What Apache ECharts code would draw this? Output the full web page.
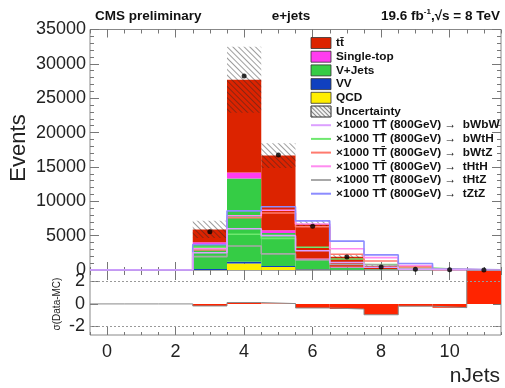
<!DOCTYPE html>
<html><head><meta charset="utf-8">
<script src="https://cdn.jsdelivr.net/npm/echarts@6/dist/echarts.min.js"></script>
<style>html,body{margin:0;padding:0;background:#fff}#c{width:505px;height:388px}</style>
</head><body><div id="c"></div>
<script>
// ---- data (nJets bins 0..11) ----
const bins       = [0, 1, 2, 3, 4, 5, 6, 7, 8, 9, 10, 11];
const qcd        = [0, 0, 0, 0, 950, 450, 80, 10, 0, 0, 0, 0];
const vv         = [0, 0, 0, 150, 250, 150, 80, 20, 10, 0, 0, 0];
const vjets      = [0, 0, 0, 3600, 12100, 4800, 1300, 350, 100, 30, 5, 2];
const singleTop  = [0, 0, 0, 300, 900, 400, 200, 100, 40, 10, 2, 1];
const ttbar      = [0, 0, 0, 1850, 13500, 10850, 5040, 1450, 450, 110, 30, 8];
const uncertainty= [0, 0, 0, 1250, 4800, 1800, 500, 400, 150, 50, 10, 5];
const dataObs    = [null, null, null, 5550, 28250, 16750, 6350, 1900, 450, 120, 30, 10];
const sigBWbW    = [0, 0, 0, 2500, 6000, 5000, 2800, 1100, 400, 100, 20, 5];
const sigBWtH    = [0, 0, 0, 3300, 5200, 4600, 3300, 1600, 800, 300, 40, 5];
const sigBWtZ    = [0, 0, 0, 2900, 7600, 8300, 6300, 2300, 1300, 450, 60, 10];
const sigTHtH    = [0, 0, 0, 3100, 7900, 8700, 6700, 3100, 1800, 650, 80, 10];
const sigTHtZ    = [0, 0, 0, 1950, 3500, 2350, 1450, 800, 700, 150, 30, 5];
const sigTZtZ    = [0, 0, 0, 3700, 8600, 9200, 7150, 4200, 2200, 950, 100, 20];
const ratio      = [0, 0, 0, -0.18, 0.12, 0.03, -0.36, -0.45, -0.96, -0.2, -0.33, 3.0];
const xTickLabels = [0, 2, 4, 6, 8, 10];
const ratioTicks  = [-2, 0, 2];

// ---- helpers ----
const FONT = "'Liberation Sans', Arial, Helvetica, sans-serif";
const total = bins.map((b, i) => qcd[i] + vv[i] + vjets[i] + singleTop[i] + ttbar[i]);
const steps = arr => { const out = []; bins.forEach((b, i) => { out.push([b - 0.5, arr[i]]); out.push([b + 0.5, arr[i]]); }); return out; };

const XMIN = -0.5, XMAX = 11.5;
function catAx(grid) {
  return { type: 'category', gridIndex: grid, data: bins.map(String), boundaryGap: true, show: false, axisLine: { onZero: false } };
}
function xAx(grid, pos, custom, len, labels) {
  const a = {
    type: 'value', gridIndex: grid, position: pos, min: XMIN, max: XMAX,
    axisLine: { show: false, onZero: false }, splitLine: { show: false },
    axisLabel: { show: false },
    axisTick: { show: true, inside: true, length: len, lineStyle: { color: '#777', width: 1 } }
  };
  if (custom) { a.axisTick.customValues = xTickLabels; } else { a.interval = 0.5; }
  if (labels) {
    a.axisLabel = { show: true, customValues: xTickLabels, fontSize: 18, color: '#222', fontFamily: FONT, margin: 8 };
  }
  return a;
}

const barCommon = { type: 'bar', xAxisIndex: 0, yAxisIndex: 0, barWidth: '100%', barGap: '-100%', barCategoryGap: 0, stack: 'bkg' };
const sigNames = ['bWtH', 'bWtZ', 'tHtH', 'tHtZ', 'tZtZ', 'bWbW'];
const sigData = { bWbW: sigBWbW, bWtH: sigBWtH, bWtZ: sigBWtZ, tHtH: sigTHtH, tHtZ: sigTHtZ, tZtZ: sigTZtZ };
const sigColor = { bWbW: '#dca0ff', bWtH: '#6fe86f', bWtZ: '#ff7a6e', tHtH: '#ff8cf0', tHtZ: '#a8a8a8', tZtZ: '#8c8cff' };
const sigLabel = m => '\u00d71000 TT\u0304 (800GeV) \u2192  ' + m;
const hatch = { symbol: 'rect', symbolSize: 1, dashArrayX: [1, 0], dashArrayY: [1, 3], rotation: Math.PI / 4, color: 'rgba(40,40,40,0.45)' };

const series = [
  Object.assign({}, barCommon, { name: 'QCD', data: qcd, itemStyle: { color: '#ffee00' } }),
  Object.assign({}, barCommon, { name: 'VV', data: vv, itemStyle: { color: '#1040c0' } }),
  Object.assign({}, barCommon, { name: 'V+Jets', data: vjets, itemStyle: { color: '#35cc45' } }),
  Object.assign({}, barCommon, { name: 'Single-top', data: singleTop, itemStyle: { color: '#ff3cf0' } }),
  Object.assign({}, barCommon, { name: 'tt\u0304', data: ttbar, itemStyle: { color: '#dc2300' } }),
  Object.assign({}, barCommon, { name: 'uncBase', stack: 'unc', data: bins.map((b, i) => total[i] - uncertainty[i]), itemStyle: { color: 'rgba(0,0,0,0)' }, silent: true }),
  Object.assign({}, barCommon, { name: 'Uncertainty', stack: 'unc', data: bins.map((b, i) => 2 * uncertainty[i]),
    itemStyle: { color: 'rgba(0,0,0,0)', decal: hatch } })
];
sigNames.forEach(m => {
  series.push({ type: 'line', name: sigLabel(m), xAxisIndex: 1, yAxisIndex: 0, data: steps(sigData[m]), symbol: 'none', showSymbol: false,
    lineStyle: { color: sigColor[m], width: 1.6 }, itemStyle: { color: sigColor[m] }, z: 3 });
});
series.push({ type: 'scatter', name: 'Data', xAxisIndex: 1, yAxisIndex: 0, data: bins.map((b, i) => [b, dataObs[i]]).filter(p => p[1] !== null),
  symbol: 'circle', symbolSize: 5, itemStyle: { color: '#000' }, z: 5 });
// ratio panel
series.push({ type: 'bar', name: 'ratio', xAxisIndex: 5, yAxisIndex: 2, barWidth: '100%', barCategoryGap: 0, data: ratio, itemStyle: { color: '#ff2400' },
  markLine: { silent: true, symbol: 'none', label: { show: false }, lineStyle: { color: '#999', type: [2, 2], width: 1 }, data: [{ yAxis: 2 }, { yAxis: -2 }] } });
series.push({ type: 'line', name: 'ratioOutline', xAxisIndex: 6, yAxisIndex: 2, data: steps(ratio.map(v => Math.min(v, 3))), symbol: 'none',
  lineStyle: { color: '#8a8a8a', width: 1 }, z: 3 });

const boxItem = (name) => ({ name, icon: 'rect', itemStyle: { borderColor: '#333', borderWidth: 0.8 } });
const legendData = [boxItem('tt\u0304'), boxItem('Single-top'), boxItem('V+Jets'), boxItem('VV'), boxItem('QCD'),
  { name: 'Uncertainty', icon: 'rect', itemStyle: { color: '#f2f2f2', borderColor: '#555', borderWidth: 0.8, decal: { symbol: 'rect', symbolSize: 1, dashArrayX: [1, 0], dashArrayY: [1, 2], rotation: Math.PI / 4, color: 'rgba(60,60,60,0.6)' } } }]
  .concat(['bWbW', 'bWtH', 'bWtZ', 'tHtH', 'tHtZ', 'tZtZ'].map(m => ({ name: sigLabel(m), itemStyle: { opacity: 0 } })));

const yBase = { type: 'value', axisLine: { show: false, onZero: false }, splitLine: { show: false } };
const option = {
  animation: false,
  backgroundColor: '#fff',
  textStyle: { fontFamily: FONT },
  grid: [
    { left: 90, right: 4, top: 29.5, height: 240.5, show: true, borderColor: '#888', borderWidth: 1, backgroundColor: 'rgba(0,0,0,0)' },
    { left: 90, right: 4, top: 270, height: 65, show: true, borderColor: '#888', borderWidth: 1, backgroundColor: 'rgba(0,0,0,0)' }
  ],
  xAxis: [
    catAx(0),
    xAx(0, 'bottom', false, 3, false),
    xAx(0, 'bottom', true, 8, false),
    xAx(0, 'top', false, 4, false),
    xAx(0, 'top', true, 8, false),
    catAx(1),
    xAx(1, 'bottom', false, 3, false),
    xAx(1, 'bottom', true, 8, true),
    xAx(1, 'top', false, 5, false),
    xAx(1, 'top', true, 10, false)
  ],
  yAxis: [
    Object.assign({}, yBase, { gridIndex: 0, position: 'left', min: 0, max: 35000, interval: 5000,
      axisTick: { inside: true, length: 9, lineStyle: { color: '#777' } },
      minorTick: { show: true, splitNumber: 5, length: 4, lineStyle: { color: '#777' } },
      axisLabel: { fontSize: 18, color: '#222', margin: 4, fontFamily: FONT, formatter: v => String(v) } }),
    Object.assign({}, yBase, { gridIndex: 0, position: 'right', min: 0, max: 35000, interval: 5000,
      axisTick: { inside: true, length: 9, lineStyle: { color: '#777' } },
      minorTick: { show: true, splitNumber: 5, length: 4, lineStyle: { color: '#777' } },
      axisLabel: { show: false } }),
    Object.assign({}, yBase, { gridIndex: 1, position: 'left', min: -2.75, max: 3,
      axisTick: { inside: true, length: 8, customValues: ratioTicks, lineStyle: { color: '#777' } },
      axisLabel: { customValues: ratioTicks, fontSize: 18, color: '#222', margin: 5, fontFamily: FONT } }),
    Object.assign({}, yBase, { gridIndex: 1, position: 'right', min: -2.75, max: 3,
      axisTick: { inside: true, length: 8, customValues: ratioTicks, lineStyle: { color: '#777' } },
      axisLabel: { show: false } })
  ],
  legend: {
    orient: 'vertical', left: 310, top: 37, padding: 0, itemWidth: 20, itemHeight: 11, itemGap: 1.7,
    textStyle: { fontSize: 11.8, fontWeight: 'bold', color: '#111', fontFamily: FONT, lineHeight: 12 },
    data: legendData, selectedMode: false
  },
  graphic: [
    { type: 'text', left: 95, top: 9, style: { text: 'CMS preliminary', font: 'bold 13.5px ' + FONT, fill: '#111' } },
    { type: 'text', x: 291, y: 16, style: { text: 'e+jets', font: 'bold 13.5px ' + FONT, fill: '#111', align: 'center', verticalAlign: 'middle' } },
    { type: 'text', x: 500, y: 16, style: { text: '19.6 fb{sup|-1},\u221As = 8 TeV', font: 'bold 13.5px ' + FONT, fill: '#111', align: 'right', verticalAlign: 'middle',
        rich: { sup: { fontSize: 8, fontWeight: 'bold', verticalAlign: 'top', lineHeight: 16, fontFamily: FONT } } } },
    { type: 'text', x: 19, y: 148, rotation: Math.PI / 2, style: { text: 'Events', font: '22px ' + FONT, fill: '#222', align: 'center', verticalAlign: 'middle' } },
    { type: 'text', x: 57, y: 304, rotation: Math.PI / 2, style: { text: '\u03c3(Data-MC)', font: '10px ' + FONT, fill: '#222', align: 'center', verticalAlign: 'middle' } },
    { type: 'text', x: 500, y: 376, style: { text: 'nJets', font: '21px ' + FONT, fill: '#222', align: 'right', verticalAlign: 'middle' } }
  ],
  series
};
const chart = echarts.init(document.getElementById('c'), null, { renderer: 'canvas' });
chart.setOption(option);
</script></body></html>
